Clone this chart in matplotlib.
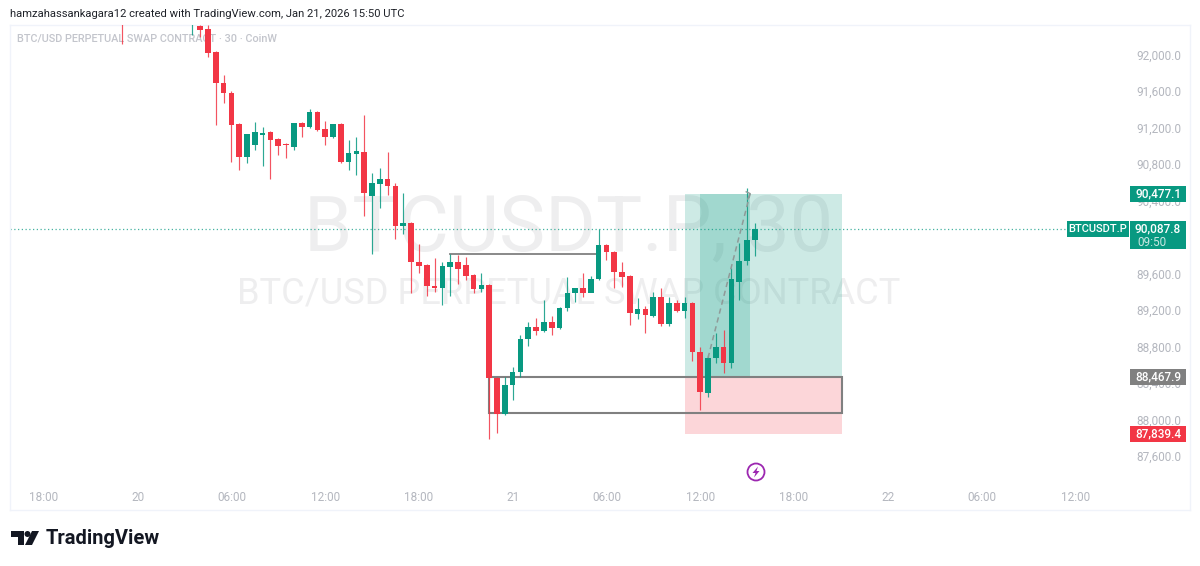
import matplotlib
matplotlib.use("Agg")
import matplotlib.pyplot as plt
from matplotlib.patches import Rectangle, Circle, Polygon
from matplotlib.transforms import Affine2D
import numpy as np

plt.rcParams['font.family'] = ['Roboto', 'Noto Sans', 'DejaVu Sans']

# ---- data (30-minute candles, index 0 = Jan 19 18:00 UTC) ----
candle_index = [10, 19, 20, 21, 22, 23, 24, 25, 26, 27, 28, 29, 30, 31, 32, 33, 34, 35, 36, 37, 38, 39, 40, 41,
                42, 43, 44, 45, 46, 47, 48, 49, 50, 51, 52, 53, 54, 55, 56, 57, 58, 59, 60, 61, 62, 63, 64, 65,
                66, 67, 68, 69, 70, 71, 72, 73, 74, 75, 76, 77, 78, 79, 80, 81, 82, 83, 84, 85, 86, 87, 88, 89, 90, 91]
opens = [92410, 92400, 92313, 92280, 92028, 91688, 91579, 91239, 90877, 91009, 91118, 91151, 91075, 91020, 90987, 91250,
         91206, 91370, 91184, 91096, 91239, 90822, 90910, 90932, 90450, 90581, 90636, 90559, 90121, 90154, 89726, 89694,
         89463, 89441, 89672, 89726, 89694, 89584, 89431, 89474, 88455, 88061, 88378, 88521, 88883, 89014, 88970, 89069,
         89003, 89222, 89387, 89441, 89387, 89540, 89913, 89836, 89617, 89573, 89157, 89211, 89135, 89343, 89047, 89277,
         89189, 89277, 88740, 88291, 88674, 88795, 88619, 89507, 89737, 89968]
highs = [92500, 92500, 92324, 92324, 92040, 91776, 91601, 91250, 91118, 91261, 91206, 91160, 91085, 91031, 91000, 91260,
         91403, 91380, 91272, 91240, 91250, 91064, 91096, 91338, 90702, 90757, 90932, 90592, 90483, 90165, 89924, 89705,
         89770, 89726, 89814, 89803, 89781, 89595, 89606, 89485, 88466, 88466, 88576, 88926, 89069, 89113, 89310, 89135,
         89230, 89562, 89400, 89606, 89573, 90088, 89925, 89845, 89726, 89584, 89332, 89244, 89398, 89441, 89343, 89310,
         89343, 89290, 88795, 88707, 88948, 88981, 89661, 89935, 90538, 90154]
lows = [92116, 92214, 92192, 91973, 91228, 91469, 90822, 90735, 90811, 90954, 90779, 90636, 90899, 90866, 90954, 91096,
        91195, 91165, 91009, 91085, 90810, 90735, 90680, 90231, 89814, 90318, 90461, 89979, 90033, 89387, 89606, 89354,
        89398, 89255, 89354, 89485, 89529, 89387, 89398, 87787, 87852, 88050, 88214, 88466, 88806, 88926, 88955, 88926,
        88990, 89189, 89288, 89343, 89430, 89530, 89748, 89441, 89452, 89036, 89102, 88948, 89125, 89025, 89025, 89180,
        89113, 88641, 88104, 88247, 88619, 88510, 88565, 89310, 89694, 89792]
closes = [92400, 92400, 92269, 92017, 91688, 91579, 91228, 90877, 91129, 91151, 91140, 91064, 90998, 91009, 91250, 91206,
          91370, 91173, 91096, 91239, 90822, 90921, 90943, 90483, 90592, 90636, 90559, 90121, 90154, 89726, 89683, 89463,
          89441, 89683, 89726, 89650, 89573, 89431, 89474, 88455, 88061, 88378, 88521, 88883, 89014, 88970, 89069, 89003,
          89222, 89387, 89441, 89387, 89540, 89913, 89836, 89617, 89562, 89167, 89211, 89146, 89343, 89047, 89277, 89189,
          89277, 88740, 88302, 88674, 88795, 88619, 89540, 89737, 89968, 90088]

price_ticks = [87600, 88000, 88400, 88800, 89200, 89600, 90400, 90800, 91200, 91600, 92000]
time_tick_index = [0, 12, 24, 36, 48, 60, 72, 84, 96, 108, 120, 132]
time_tick_labels = ['18:00', '20', '06:00', '12:00', '18:00', '21', '06:00', '12:00', '18:00', '22', '06:00', '12:00']

last_price = 90087.8
entry_price = 88467.9
target_price = 90477.1
stop_price = 87839.4
zone_top = 88467.9
zone_bottom = 88072
swing_level = 89814
zone_start, zone_end = 57.0, 102.2
swing_start, swing_end = 52, 71
pos_start, pos_end = 82.0, 102.2
pos_dark_start, pos_dark_end = 84.0, 90.4
path_start = (85.0, 88674)
path_end = (90.4, 90477.1)

GREEN = '#089981'
RED = '#f23645'
GREY = '#808080'
LABEL = '#b4b7bf'

W, H = 1200, 566
fig = plt.figure(figsize=(W / 100, H / 100), dpi=100, facecolor='white')
L, R, T, B = 10, 1190, 25, 510
ax = fig.add_axes([L / W, 1 - B / H, (R - L) / W, (B - T) / H])
PX_PER_BAR = 7.8125
PX_PER_USD = 0.0912
X0 = 43.9
ax.set_xlim((L - X0) / PX_PER_BAR, (R - X0) / PX_PER_BAR)
ax.set_ylim(87600 - (B - 456) / PX_PER_USD, 87600 + (456 - T) / PX_PER_USD)
for s in ax.spines.values():
    s.set_color('#f0f3fa')
    s.set_linewidth(1.0)

# pixel transform (top-left origin) for chart furniture
px = Affine2D().scale(1 / W, -1 / H).translate(0, 1) + fig.transFigure
def ypx(v):
    return 456 - (v - 87600) * PX_PER_USD

# watermarks
wm = '#eeeeef'
ax.text(568.5, 229, 'BTCUSDT.P, 30', transform=px, ha='center', va='center', fontsize=55.8, color=wm, zorder=0)
ax.text(569, 293, 'BTC/USD PERPETUAL SWAP CONTRACT', transform=px, ha='center', va='center', fontsize=26.1, color=wm, zorder=0)

# title
fig.text(10 / W, 1 - 14 / H, 'hamzahassankagara12 created with TradingView.com, Jan 21, 2026 15:50 UTC',
         fontsize=8.1, color='#1f2229', ha='left', va='center')
ax.text(17, 38, 'BTC/USD PERPETUAL SWAP CONTRACT · 30 · CoinW', transform=px, fontsize=7.8,
        color='#c3c5cc', ha='left', va='center', zorder=1, fontweight='medium')

# position tool
ax.add_patch(Rectangle((pos_start, entry_price), pos_end - pos_start, target_price - entry_price,
                       facecolor=GREEN, alpha=0.2, edgecolor='none', zorder=1))
ax.add_patch(Rectangle((pos_start, stop_price), pos_end - pos_start, entry_price - stop_price,
                       facecolor=RED, alpha=0.2, edgecolor='none', zorder=1))
ax.add_patch(Rectangle((pos_dark_start, entry_price), pos_dark_end - pos_dark_start, target_price - entry_price,
                       facecolor=GREEN, alpha=0.22, edgecolor='none', zorder=1.1))

# last price line
ax.plot([ax.get_xlim()[0], 131], [last_price, last_price], color=GREEN, lw=0.9, ls=(0, (1, 2)), alpha=0.75, zorder=1.5)

# zone + swing level
ax.add_patch(Rectangle((zone_start, zone_bottom), zone_end - zone_start, zone_top - zone_bottom,
                       facecolor='none', edgecolor=GREY, lw=1.5, zorder=2))
ax.plot([swing_start, swing_end], [swing_level, swing_level], color=GREY, lw=1.3, zorder=2)

# candles
idx = np.array(candle_index)
o, h, l, c = map(np.array, (opens, highs, lows, closes))
cols = np.where(c >= o, GREEN, RED)
ax.vlines(idx, l, h, colors=cols, lw=0.85, alpha=0.85, zorder=3)
ax.bar(idx, np.abs(c - o), bottom=np.minimum(o, c), width=0.72, color=cols, linewidth=0, zorder=3.1)

# dashed path
ax.plot([path_start[0], path_end[0]], [path_start[1], path_end[1]], color='#8f9a98', lw=1.1,
        ls=(0, (3.5, 2.5)), zorder=3.5)
ax.plot([89.9, path_end[0], 90.1], [path_end[1] + 20, path_end[1], path_end[1] - 60], color='#8f9a98', lw=1, zorder=3.5)

# axes ticks inside the frame
ax.yaxis.tick_right()
ax.set_yticks(price_ticks)
ax.set_yticklabels([f'{p:,.1f}' for p in price_ticks], ha='right', fontsize=8.5, color=LABEL)
ax.tick_params(axis='y', length=0, pad=-6.5)
ax.set_xticks(time_tick_index)
ax.set_xticklabels(time_tick_labels, fontsize=8.5, color=LABEL)
ax.tick_params(axis='x', length=0, pad=-13.5)

# price tags
def tag(x0, x1, y0, y1, color):
    ax.add_patch(Rectangle((x0, y0), x1 - x0, y1 - y0, transform=px, facecolor=color, edgecolor='none', zorder=5, clip_on=False))
def tagtext(x, y, s, color='white', ha='right', weight='medium', size=8.5):
    ax.text(x, y, s, transform=px, color=color, fontsize=size, ha=ha, va='center', zorder=6, fontweight=weight)

for v, col in ((target_price, GREEN), (entry_price, GREY), (stop_price, RED)):
    y = ypx(v)
    tag(1130, 1186, y - 8, y + 8, col)
    tagtext(1181, y, f'{v:,.1f}')
y = ypx(last_price)
tag(1130, 1186, y - 8, y + 20, GREEN)
tagtext(1181, y - 0.5, f'{last_price:,.1f}')
tagtext(1137, y + 13, '09:50', color='#c8e8e2', ha='left', weight='normal')
tag(1067, 1129, y - 8, y + 8, GREEN)
tagtext(1098, y, 'BTCUSDT.P', ha='center', size=8.0)

# lightning icon
ax.add_patch(Circle((756, 472), 8.5, transform=px, facecolor='white', edgecolor='#9c27b0', lw=1.3, zorder=6))
ax.add_patch(Polygon([(758, 466.5), (752.5, 473), (755.5, 473), (754, 477.5), (759.5, 471), (756.5, 471)],
                     transform=px, facecolor='#9c27b0', edgecolor='none', zorder=7))

# TradingView logo
logo = '#131722'
for pts in ([(11, 531), (24, 531), (24, 545), (18, 545), (18, 537), (11, 537)],
            [(32, 531), (39, 531), (32, 545), (25, 545)]):
    fig.add_artist(Polygon(pts, transform=px, facecolor=logo, edgecolor='none'))
fig.add_artist(Circle((27.5, 534), 3, transform=px, facecolor=logo, edgecolor='none'))
fig.text(46 / W, 1 - 538 / H, 'TradingView', fontsize=14.5, fontweight='bold', color=logo, ha='left', va='center')

fig.savefig('out.png', dpi=100, facecolor='white')
